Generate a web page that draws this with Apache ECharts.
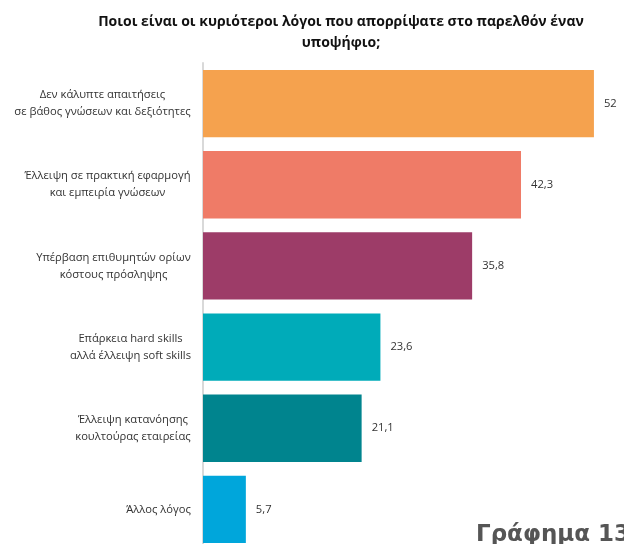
<!DOCTYPE html>
<html>
<head>
<meta charset="utf-8">
<script src="https://cdn.jsdelivr.net/npm/echarts@6/dist/echarts.min.js"></script>
<style>
  html, body { margin: 0; padding: 0; background: #fff; }
  #chart1 { width: 624px; height: 544px; }
</style>
</head>
<body>
<div id="chart1"></div>
<script>
(function(){

    var categories = [
        'Δεν κάλυπτε απαιτήσεις\nσε βάθος γνώσεων και δεξιότητες',
        'Έλλειψη σε πρακτική εφαρμογή\nκαι εμπειρία γνώσεων',
        'Υπέρβαση επιθυμητών ορίων\nκόστους πρόσληψης',
        'Επάρκεια hard skills\nαλλά έλλειψη soft skills',
        'Έλλειψη κατανόησης\nκουλτούρας εταιρείας',
        'Άλλος λόγος'
    ];
    var values = [52, 42.3, 35.8, 23.6, 21.1, 5.7];
    var barColors = ['#F5A24E', '#EF7B67', '#9D3C68', '#00ABB9', '#00848E', '#00A6DB'];

    var labelSize = 11.2;

    // lines of each label are centred on each other, the block sits right
    var ctx = document.createElement('canvas').getContext('2d');
    ctx.font = labelSize + 'px "Open Sans"';
    var rich = {};
    categories.forEach(function(c, i){
        var w = 0;
        c.split('\n').forEach(function(l){ w = Math.max(w, ctx.measureText(l).width); });
        rich['r' + i] = {
            width: Math.ceil(w),
            align: 'center',
            fontFamily: 'Open Sans',
            fontSize: labelSize,
            lineHeight: 17,
            color: '#333'
        };
    });

    var chart1 = echarts.init(document.getElementById('chart1'));

    var option = {
        animation: false,
        title: {
            text: 'Ποιοι είναι οι κυριότεροι λόγοι που απορρίψατε στο παρελθόν έναν\nυποψήφιο;',
            left: 336,
            top: 7,
            textAlign: 'center',
            textStyle: {
                fontFamily: 'Open Sans',
                fontSize: 14,
                fontWeight: 'bold',
                color: '#111',
                lineHeight: 21
            }
        },
        graphic: [
            {
                type: 'text',
                left: 476,
                top: 524,
                style: {
                    text: 'Γράφημα 13',
                    font: 'bold 23px "DejaVu Sans"',
                    fill: '#555'
                }
            }
        ],
        grid: {
            left: 203,
            right: 0,
            top: 63,
            height: 487,
            outerBoundsMode: 'none'
        },
        xAxis: {
            type: 'value',
            min: 0,
            max: 56,
            show: false
        },
        yAxis: {
            type: 'category',
            inverse: true,
            data: categories,
            axisLine: { show: true, lineStyle: { color: '#d9d9d9', width: 2 } },
            axisTick: { show: false },
            axisLabel: {
                margin: 12,
                align: 'right',
                rich: rich,
                formatter: function(v, i){
                    return v.split('\n').map(function(l){ return '{r' + i + '|' + l + '}'; }).join('\n');
                }
            }
        },
        series: [
            {
                type: 'bar',
                data: values,
                barCategoryGap: '17%',
                itemStyle: {
                    color: function(p){ return barColors[p.dataIndex]; }
                },
                label: {
                    show: true,
                    position: 'right',
                    distance: 10,
                    fontFamily: 'Open Sans',
                    fontSize: labelSize,
                    color: '#333',
                    formatter: function(p){ return String(p.value).replace('.', ','); }
                }
            }
        ]
    };

    chart1.setOption(option);

})();
</script>
</body>
</html>
